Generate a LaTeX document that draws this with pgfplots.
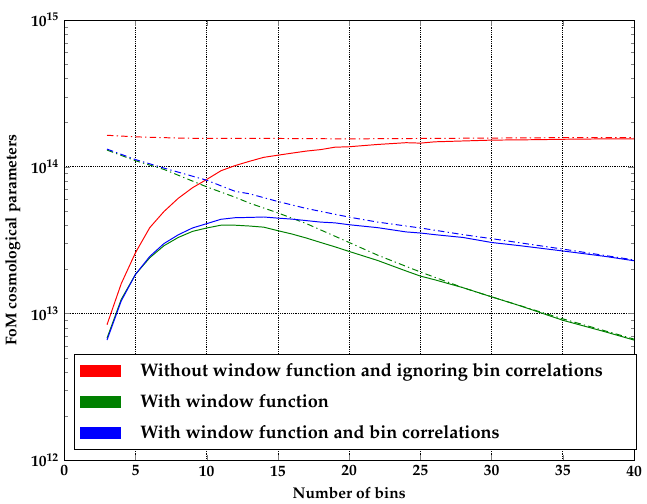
\documentclass[border=0pt]{standalone}
\usepackage[T1]{fontenc}
\usepackage{mathpazo}
\usepackage{pgfplots}
\pgfplotsset{compat=1.18}

\definecolor{mplgreen}{rgb}{0,0.5,0}

\begin{document}
\fontsize{12}{14}\selectfont\bfseries\boldmath
\begin{tikzpicture}
\begin{semilogyaxis}[
    scale only axis,
    width=440pt, height=340pt,
    xmin=0, xmax=40, ymin=1e12, ymax=1e15,
    xtick={0,5,...,40},
    ytick={1e12,1e13,1e14,1e15},
    grid=major,
    major grid style={black, densely dotted, line width=0.6pt},
    tick align=inside,
    major tick length=4.5pt, minor tick length=2.5pt,
    axis line style={line width=0.7pt},
    xlabel={Number of bins},
    ylabel={FoM cosmological parameters},
    label style={font=\fontsize{12}{14}\selectfont\bfseries},
    tick label style={font=\fontsize{12}{14}\selectfont\bfseries\boldmath},
    legend cell align=left,
    legend style={at={(0.0175,0.023)}, anchor=south west, draw=black, fill=white,
      font=\fontsize{14}{16}\selectfont\bfseries, row sep=8pt,
      inner xsep=4pt, inner ysep=5pt, line width=0.7pt},
    every axis plot/.append style={line width=0.75pt},
    dashdot/.style={dash pattern=on 5pt off 2.5pt on 1pt off 2.5pt},
]
\addlegendimage{legend image code/.code={\fill[red] (0pt,-4pt) rectangle (31pt,4pt); \path (44pt,0pt);}}
\addlegendentry{Without window function and ignoring bin correlations\rule{20pt}{0pt}}
\addlegendimage{legend image code/.code={\fill[mplgreen] (0pt,-4pt) rectangle (31pt,4pt); \path (44pt,0pt);}}
\addlegendentry{With window function}
\addlegendimage{legend image code/.code={\fill[blue] (0pt,-4pt) rectangle (31pt,4pt); \path (44pt,0pt);}}
\addlegendentry{With window function and bin correlations}

% without window function, no correlations
\addplot[red, forget plot] coordinates {
(3,8.4e12) (4,1.6e13) (5,2.6e13) (6,3.85e13) (7,4.96e13) (8,6.1e13) (9,7.2e13)
(10,8.2e13) (11,9.4e13) (12,1.02e14) (13,1.09e14) (14,1.16e14) (15,1.2e14)
(16,1.24e14) (17,1.28e14) (18,1.31e14) (19,1.36e14) (20,1.37e14) (22,1.42e14)
(24,1.46e14) (25,1.45e14) (26,1.48e14) (28,1.5e14) (30,1.52e14) (33,1.53e14)
(35,1.54e14) (38,1.55e14) (40,1.55e14)};
\addplot[red, dashdot, forget plot] coordinates {
(3,1.64e14) (5,1.6e14) (8,1.57e14) (10,1.56e14) (15,1.56e14) (20,1.55e14)
(25,1.56e14) (30,1.57e14) (35,1.58e14) (40,1.58e14)};

% with window function
\addplot[mplgreen, forget plot] coordinates {
(3,6.8e12) (4,1.25e13) (5,1.85e13) (6,2.4e13) (7,2.9e13) (8,3.3e13) (9,3.63e13)
(10,3.83e13) (11,4.0e13) (12,4.0e13) (13,3.95e13) (14,3.88e13) (15,3.67e13)
(16,3.48e13) (17,3.27e13) (18,3.05e13) (19,2.85e13) (20,2.65e13) (22,2.3e13)
(24,1.95e13) (25,1.8e13) (26,1.7e13) (28,1.5e13) (30,1.3e13) (32,1.13e13)
(35,9e12) (38,7.5e12) (40,6.6e12)};
\addplot[mplgreen, dashdot, forget plot] coordinates {
(3,1.3e14) (5,1.1e14) (7,9.6e13) (10,7.3e13) (12,6.2e13) (13,5.66e13) (15,4.85e13)
(17,4.1e13) (20,3.05e13) (22,2.5e13) (25,1.92e13) (28,1.5e13) (30,1.3e13)
(35,9.2e12) (40,6.7e12)};

% with window function and bin correlations
\addplot[blue, forget plot] coordinates {
(3,6.6e12) (4,1.22e13) (5,1.85e13) (6,2.45e13) (7,3.0e13) (8,3.44e13) (9,3.83e13)
(10,4.1e13) (11,4.39e13) (12,4.5e13) (13,4.52e13) (14,4.55e13) (15,4.47e13)
(16,4.4e13) (17,4.3e13) (18,4.2e13) (19,4.15e13) (20,4.03e13) (22,3.85e13)
(24,3.6e13) (25,3.54e13) (26,3.45e13) (28,3.3e13) (30,3.05e13) (32,2.9e13)
(35,2.67e13) (38,2.45e13) (40,2.29e13)};
\addplot[blue, dashdot, forget plot] coordinates {
(3,1.32e14) (5,1.12e14) (7,9.8e13) (10,8.1e13) (12,6.8e13) (13,6.55e13) (15,5.8e13)
(17,5.2e13) (20,4.54e13) (22,4.2e13) (25,3.83e13) (28,3.45e13) (30,3.24e13)
(35,2.75e13) (40,2.32e13)};
\end{semilogyaxis}
% room above the axis, as in the reference
\path ([yshift=15.5pt]current axis.north);
\end{tikzpicture}
\end{document}
